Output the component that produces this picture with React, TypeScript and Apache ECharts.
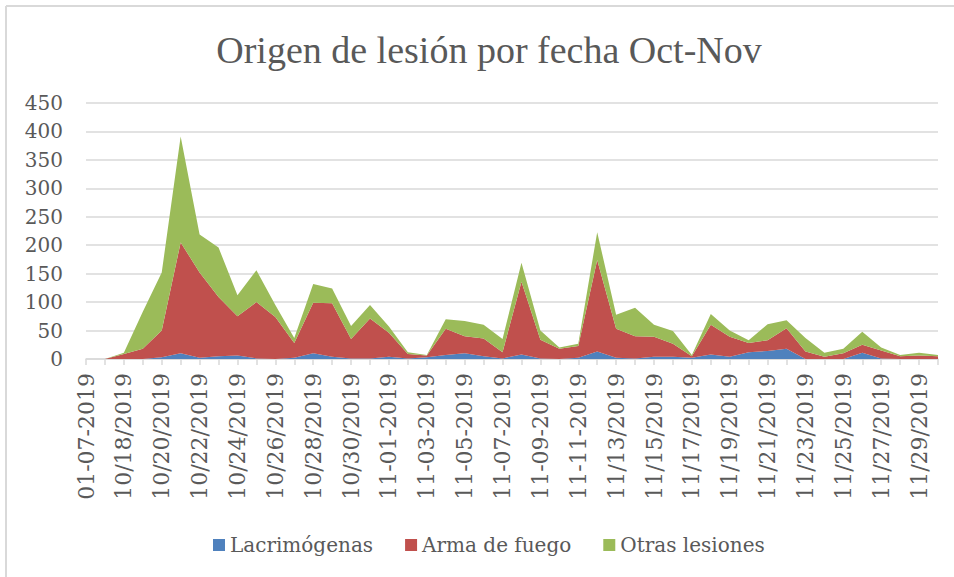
import React, { useEffect, useRef } from "react";
import * as echarts from "echarts";

const categories = [
  "01-07-2019", "10/17/2019", "10/18/2019", "10/19/2019", "10/20/2019", "10/21/2019",
  "10/22/2019", "10/23/2019", "10/24/2019", "10/25/2019", "10/26/2019", "10/27/2019",
  "10/28/2019", "10/29/2019", "10/30/2019", "10/31/2019", "11-01-2019", "11-02-2019",
  "11-03-2019", "11-04-2019", "11-05-2019", "11-06-2019", "11-07-2019", "11-08-2019",
  "11-09-2019", "11-10-2019", "11-11-2019", "11-12-2019", "11/13/2019", "11/14/2019",
  "11/15/2019", "11/16/2019", "11/17/2019", "11/18/2019", "11/19/2019", "11/20/2019",
  "11/21/2019", "11/22/2019", "11/23/2019", "11/24/2019", "11/25/2019", "11/26/2019",
  "11/27/2019", "11/28/2019", "11/29/2019", "11/30/2019",
];

const lacrimogenas = [
  0, 0, 0, 0, 3, 10, 2, 5, 6, 1, 0, 2, 10, 4, 1, 1, 4, 1, 3, 7, 10, 5, 1, 8,
  1, 0, 2, 13, 2, 1, 4, 4, 2, 8, 4, 12, 14, 18, 0, 0, 0, 11, 1, 0, 0, 0,
];

const armaDeFuego = [
  0, 0, 9, 18, 47, 195, 150, 104, 69, 99, 74, 26, 89, 94, 34, 70, 42, 8, 3, 46, 30, 31, 11, 128,
  33, 18, 21, 161, 51, 39, 35, 23, 3, 52, 35, 16, 19, 36, 13, 4, 10, 14, 14, 5, 6, 5,
];

const otrasLesiones = [
  0, 0, 2, 65, 102, 186, 67, 87, 37, 56, 21, 9, 33, 26, 23, 24, 11, 3, 1, 17, 27, 24, 23, 33,
  16, 2, 4, 49, 25, 50, 21, 22, 2, 19, 11, 5, 28, 14, 24, 7, 8, 23, 5, 2, 5, 2,
];

const seriesNames = ["Lacrimógenas", "Arma de fuego", "Otras lesiones"];
const seriesColors = ["#4f81bd", "#c0504d", "#9bbb59"];
const titleText = "Origen de lesión por fecha Oct-Nov";

const TEXT = "#595959";
const GRID = "#d9d9d9";
const FONT = "'DejaVu Serif', serif";

export default function App() {
  const ref = useRef<HTMLDivElement>(null);
  useEffect(() => {
    const chart = echarts.init(ref.current!, null, { renderer: "svg" });
    const values = [lacrimogenas, armaDeFuego, otrasLesiones];
    chart.setOption({
      animation: false,
      backgroundColor: "#ffffff",
      title: {
        text: titleText,
        left: 484,
        textAlign: "center",
        top: 26,
        textStyle: {
          fontFamily: "'Liberation Serif', serif",
          fontSize: 38,
          fontWeight: "normal",
          color: TEXT,
        },
      },
      legend: {
        left: 208,
        top: 530,
        icon: "rect",
        itemWidth: 12,
        itemHeight: 12,
        itemGap: 32,
        data: seriesNames,
        textStyle: { fontFamily: FONT, fontSize: 20, color: TEXT },
      },
      grid: { left: 86, right: 16, top: 103, bottom: 218 },
      xAxis: {
        type: "category",
        boundaryGap: false,
        data: categories,
        axisLine: { lineStyle: { color: GRID, width: 1.5 } },
        axisTick: { show: true, interval: 0, length: 6, lineStyle: { color: GRID, width: 1.5 } },
        axisLabel: {
          interval: 1,
          rotate: 90,
          margin: 14,
          fontFamily: FONT,
          fontSize: 22,
          color: TEXT,
        },
      },
      yAxis: {
        type: "value",
        min: 0,
        max: 450,
        interval: 50,
        axisLine: { show: false },
        axisTick: { show: false },
        splitLine: { lineStyle: { color: GRID, width: 1.5 } },
        axisLabel: { margin: 23, fontFamily: FONT, fontSize: 20, color: TEXT },
      },
      series: seriesNames.map((name, i) => ({
        name,
        type: "line",
        stack: "total",
        data: values[i],
        symbol: "none",
        color: seriesColors[i],
        lineStyle: { width: 0 },
        areaStyle: { color: seriesColors[i], opacity: 1 },
      })),
      graphic: [
        { type: "line", shape: { x1: 6, y1: 6, x2: 954, y2: 6 }, style: { stroke: GRID, lineWidth: 2 } },
        { type: "line", shape: { x1: 6, y1: 6, x2: 6, y2: 577 }, style: { stroke: GRID, lineWidth: 2 } },
      ],
    });
    return () => chart.dispose();
  }, []);
  return (
    <div
      ref={ref}
      style={{ position: "absolute", left: 0, top: 0, width: 954, height: 577, background: "#fff" }}
    />
  );
}
